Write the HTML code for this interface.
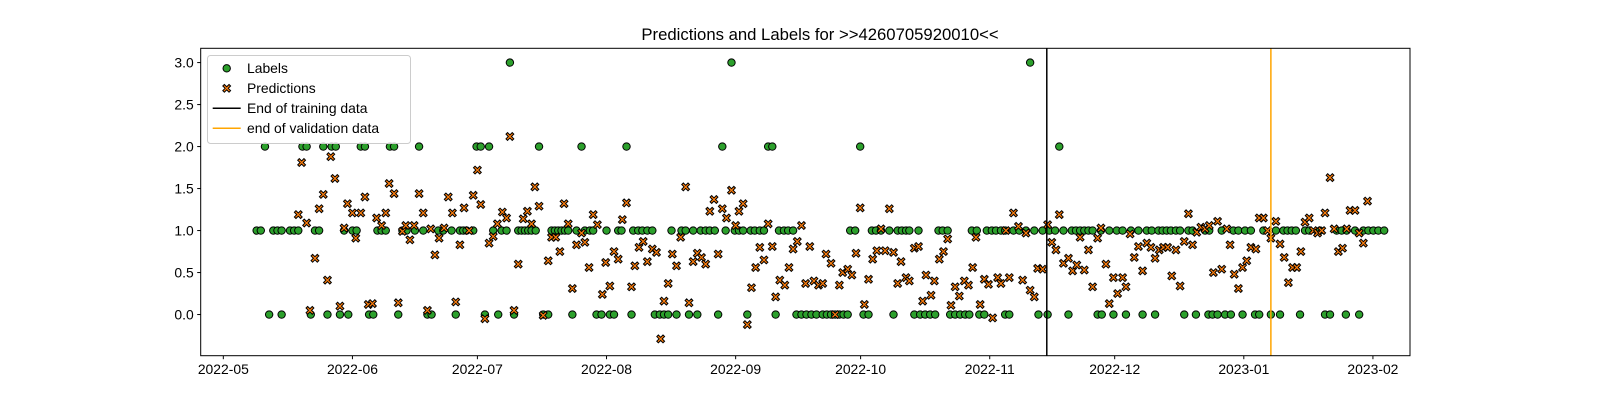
<!DOCTYPE html>
<html>
<head>
<meta charset="utf-8">
<style>
  html,body{margin:0;padding:0;background:#fff;}
  svg{display:block;font-family:"Liberation Sans","DejaVu Sans",sans-serif;}
</style>
</head>
<body>
<svg id="chart" width="1600" height="400" viewBox="0 0 1600 400" xmlns="http://www.w3.org/2000/svg">
  <rect x="0" y="0" width="1600" height="400" fill="#fff"/>
  <text x="820" y="40" text-anchor="middle" font-size="16.7" fill="#000">Predictions and Labels for &gt;&gt;4260705920010&lt;&lt;</text>
  <g id="marks"></g>
  <g id="axes"></g>
  <g id="legend">
    <rect x="207.5" y="55.5" width="203" height="88" rx="3" fill="#fff" fill-opacity="0.8" stroke="#cccccc" stroke-width="1"/>
    <circle cx="226.7" cy="68.3" r="3.7" fill="#2ca02c" stroke="#000" stroke-width="1"/>
    <text x="247" y="73" font-size="13.9">Labels</text>
    <polygon id="legX" fill="#ff7f0e" stroke="#000" stroke-width="1"/>
    <text x="247" y="93" font-size="13.9">Predictions</text>
    <line x1="212.7" y1="108.3" x2="240.7" y2="108.3" stroke="#000" stroke-width="1.5"/>
    <text x="247" y="113" font-size="13.9">End of training data</text>
    <line x1="212.7" y1="128.3" x2="240.7" y2="128.3" stroke="#ffa500" stroke-width="1.5"/>
    <text x="247" y="133" font-size="13.9">end of validation data</text>
  </g>
</svg>
<script>
// ---- data (days since 2022-05-01, value) ----
const labelPoints = [
[10,2],[19,2],[20,2],[24,2],[26,2],[27,2],[33,2],[34,2],[40,2],[41,2],[47,2],[60.8,2],[61.8,2],[63.8,2],[75.8,2],[86,2],[96.8,2],[119.8,2],[130.8,2],[131.8,2],[152.9,2],[200.7,2],
[68.8,3],[122,3],[193.7,3],
[8,1],[9,1],[12,1],[13,1],[14,1],[16,1],[17,1],[18,1],[22,1],[23,1],[29,1],[31,1],[32,1],[37,1],[38,1],[39,1],[43,1],[44,1],[46,1],[48,1],
[51.6,1],[52.8,1],[54.8,1],[56.8,1],[57.6,1],[58.4,1],[60,1],[64.8,1],[66.8,1],[68,1],[70.8,1],[71.6,1],[72.4,1],[73.2,1],[74,1],[75,1],[78.8,1],[79.6,1],[80.4,1],[81.2,1],[82,1],[82.8,1],[84.8,1],[86.8,1],[88,1],[88.8,1],[92,1],[94.8,1],[95.6,1],
[98.4,1],[99.6,1],[100.6,1],[101.8,1],[103,1],[107.6,1],[110,1],[111,1],[112.8,1],[114.6,1],[115.8,1],[116.8,1],[118,1],[120.6,1],[122.8,1],[123.8,1],[124.8,1],[126.6,1],[127.6,1],[128.8,1],[129.8,1],[133.4,1],[134.6,1],[135.6,1],[136.8,1],
[150.5,1],[151.7,1],[155.7,1],[156.7,1],[157.9,1],[159.9,1],[161.9,1],[162.9,1],[163.9,1],[164.7,1],[166.9,1],[171.7,1],[172.7,1],[173.9,1],[179.7,1],[180.9,1],[183.3,1],[184.5,1],[185.5,1],[186.7,1],[187.7,1],
[189.7,1],[191.1,1],[192.7,1],[194.7,1],[196.7,1],[198.3,1],[199.7,1],[201.7,1],[203.7,1],[204.7,1],[205.7,1],[206.7,1],[207.7,1],[208.7,1],[210.7,1],[212.7,1],[214.5,1],[215.9,1],[217.9,1],[219.7,1],[221.7,1],[222.9,1],[224.5,1],[225.5,1],[226.5,1],[227.5,1],[228.7,1],[229.7,1],[231.7,1],[232.7,1],
[235.7,1],[236.7,1],[239.7,1],[242.5,1],[243.7,1],[245.3,1],[246.7,1],[249.7,1],[252.7,1],[254.5,1],[255.5,1],[256.5,1],[257.5,1],[259.7,1],[260.7,1],[263.3,1],[267.3,1],[268.5,1],[269.7,1],[271.7,1],[273.7,1],[274.9,1],[276.1,1],[277.3,1],[278.7,1],
[11,0],[14,0],[21,0],[25,0],[28,0],[30,0],[35,0],[36,0],[42,0],[49,0],[50,0],[55.8,0],[62.8,0],[66,0],[69.8,0],[76.8,0],[78,0],[83.8,0],[89.6,0],[90.8,0],[92.8,0],[93.8,0],
[98,0],[103.6,0],[104.8,0],[105.8,0],[106.8,0],[108.8,0],[111.8,0],[113.8,0],[118.8,0],[125.8,0],[132.6,0],[137.6,0],[138.8,0],[140,0],[141.2,0],[142.4,0],
[143.9,0],[144.9,0],[145.9,0],[146.9,0],[147.9,0],[148.9,0],[149.9,0],[153.7,0],[154.9,0],[160.9,0],[165.9,0],[167.3,0],[168.5,0],[169.7,0],[170.9,0],[174.5,0],[175.7,0],[176.9,0],[178.1,0],[179.1,0],[181.5,0],[182.7,0],[187.7,0],[188.7,0],
[195.7,0],[197.9,0],[202.9,0],[209.9,0],[210.9,0],[213.7,0],[216.7,0],[220.7,0],[223.7,0],[230.7,0],[233.5,0],
[236.5,0],[237.5,0],[238.7,0],[240.5,0],[241.9,0],[244.7,0],[247.7,0],[248.7,0],[251.5,0],[253.7,0],[258.5,0],[264.5,0],[265.7,0],[269.5,0],[272.7,0]
];
const predictionPoints = [
[18.8,1.81],[25.8,1.88],[26.8,1.62],[24,1.43],[23,1.26],[18,1.19],[20,1.09],[22,0.67],[25,0.41],[20.8,0.05],[28,0.10],[29,1.03],[29.8,1.32],[31,1.21],[31.8,0.91],[33,1.21],[34,1.40],[34.8,0.12],[35.8,0.13],[36.8,1.15],[38,1.06],[39,1.21],[39.8,1.56],[41,1.44],[42,0.14],[43,0.99],[43.8,1.06],[44.8,0.89],[45.8,1.06],[47,1.44],[48,1.21],[49,0.05],[49.8,1.02],[50.8,0.71],
[51.8,0.91],[53,1.03],[54,1.40],[55,1.21],[55.8,0.15],[56.8,0.83],[57.8,1.27],[59,1.0],[60,1.42],[61,1.72],[61.8,1.31],[62.8,-0.05],[63.8,0.85],[64.8,0.93],[65.8,1.08],[67,1.22],[68,1.15],[68.8,2.12],[69.8,0.05],[70.8,0.60],[72,1.14],[73,1.23],[74,1.08],[74.8,1.52],[75.8,1.29],[76.8,-0.01],[78,0.64],[78.8,0.92],[79.8,0.92],[80.8,0.75],[81.8,1.32],[82.8,1.08],[83.8,0.31],[84.8,0.83],[86,0.97],[86.8,0.86],[87.8,0.56],[88.8,1.19],[89.8,1.07],[91,0.24],[91.8,0.62],[92.8,0.34],[93.8,0.75],[94.8,0.66],[95.8,1.13],[96.8,1.33],
[98,0.33],[98.8,0.58],[99.8,0.80],[100.8,0.87],[101.8,0.63],[103,0.78],[104,0.74],[105,-0.29],[105.8,0.16],[106.8,0.37],[107.8,0.72],[108.8,0.58],[109.8,0.92],[111,1.52],[111.8,0.14],[112.8,0.63],[113.8,0.73],[114.8,0.68],[115.8,0.60],[116.8,1.23],[117.8,1.37],[118.8,0.72],[119.8,1.26],[120.8,1.15],[122,1.48],[123,1.06],[123.8,1.23],[124.8,1.32],[125.8,-0.12],[126.8,0.32],[127.8,0.56],[128.8,0.80],[129.8,0.65],[130.8,1.08],[131.8,0.81],[132.6,0.21],[133.6,0.41],[134.8,0.35],[135.8,0.56],[136.8,0.78],[137.8,0.87],[138.8,1.06],[139.8,0.37],[140.8,0.81],[141.8,0.40],
[142.9,0.35],[143.9,0.37],[144.7,0.72],[145.9,0.61],[146.9,0.0],[147.9,0.35],[148.7,0.50],[149.9,0.54],[150.9,0.47],[151.9,0.73],[152.9,1.27],[153.9,0.12],[154.9,0.42],[155.9,0.66],[156.9,0.76],[157.9,1.02],[158.9,0.76],[159.9,1.26],[160.9,0.74],[161.9,0.37],[162.7,0.63],[163.9,0.44],[164.7,0.40],[165.9,0.79],[166.9,0.81],[167.9,0.16],[168.7,0.47],[169.9,0.23],[170.7,0.40],[171.9,0.66],[172.9,0.75],[173.9,0.90],[174.7,0.11],[175.7,0.33],[176.7,0.22],[177.9,0.40],[178.9,0.35],[179.9,0.56],[180.7,0.92],[181.7,0.12],[182.7,0.42],[183.7,0.36],[184.7,-0.04],[185.9,0.44],[186.7,0.37],[187.9,1.0],[188.7,0.44],
[189.7,1.21],[190.9,1.05],[191.9,0.41],[192.7,0.97],[193.7,0.29],[194.7,0.21],[195.5,0.55],[196.7,0.54],[197.9,1.07],[198.9,0.86],[199.9,0.77],[200.7,1.19],[201.7,0.61],[202.9,0.67],[203.9,0.52],[204.9,0.59],[205.7,0.92],[206.7,0.53],[207.7,0.77],[208.7,0.33],[209.9,0.91],[210.7,1.03],[211.9,0.60],[212.7,0.13],[213.7,0.44],[214.7,0.25],[215.9,0.44],[216.7,0.33],[217.7,0.96],[218.7,0.68],[219.7,0.81],[220.7,0.52],[221.7,0.85],[222.7,0.80],[223.7,0.67],[224.7,0.77],[225.7,0.80],[226.7,0.80],[227.7,0.46],[228.7,0.77],[229.7,0.34],[230.7,0.87],[231.7,1.20],[232.7,0.83],[233.7,0.98],
[234.7,1.04],[235.7,1.02],[236.7,1.06],[237.7,0.50],[238.7,1.11],[239.7,0.54],[240.9,1.02],[241.7,0.83],[242.7,0.48],[243.7,0.31],[244.7,0.56],[245.7,0.64],[246.7,0.80],[247.9,0.78],[248.7,1.15],[249.7,1.15],[250.7,1.0],[251.5,0.91],[252.7,1.11],[253.7,0.84],[254.7,0.68],[255.7,0.38],[256.7,0.56],[257.7,0.56],[258.7,0.75],[259.7,1.10],[260.7,1.15],[261.7,1.0],[262.7,0.97],[263.7,1.0],[264.5,1.21],[265.7,1.63],[266.7,1.02],[267.7,0.75],[268.7,0.79],[269.7,1.02],[270.5,1.24],[271.7,1.24],[272.7,0.97],[273.7,0.85],[274.7,1.35]
];
const trainingEndDay = [197.7];
const validationEndDay = [251.5];
const xTickDays = [0,31,61,92,123,153,184,214,245,276];
const xTickLabels = ["2022-05","2022-06","2022-07","2022-08","2022-09","2022-10","2022-11","2022-12","2023-01","2023-02"];
const yTickValues = [0,0.5,1,1.5,2,2.5,3];
const yTickLabels = ["0.0","0.5","1.0","1.5","2.0","2.5","3.0"];

// ---- axis functions ----
const PL=200.7, PR=1410, PT=48.3, PB=355.7;
const xMin=-5.43, xMax=284.9, yMin=-0.49, yMax=3.17;
function xs(d){return PL+(d-xMin)/(xMax-xMin)*(PR-PL);}
function ys(v){return PB-(v-yMin)/(yMax-yMin)*(PB-PT);}

const NS="http://www.w3.org/2000/svg";
const marks=document.getElementById('marks');
const axes=document.getElementById('axes');
function xPoly(cx,cy,s){
  const p=[[-1,-0.6],[-0.6,-1],[0,-0.4],[0.6,-1],[1,-0.6],[0.4,0],[1,0.6],[0.6,1],[0,0.4],[-0.6,1],[-1,0.6],[-0.4,0]];
  return p.map(q=>(cx+q[0]*s).toFixed(2)+","+(cy+q[1]*s).toFixed(2)).join(" ");
}
document.getElementById('legX').setAttribute('points',xPoly(226.7,88.3,3.9));

labelPoints.forEach(function(pt){
  const c=document.createElementNS(NS,'circle');
  c.setAttribute('cx',xs(pt[0]).toFixed(2));
  c.setAttribute('cy',ys(pt[1]).toFixed(2));
  c.setAttribute('r','3.7');
  c.setAttribute('fill','#2ca02c');
  c.setAttribute('stroke','#000');
  c.setAttribute('stroke-width','1');
  
  
  marks.appendChild(c);
});
predictionPoints.forEach(function(pt){
  const p=document.createElementNS(NS,'polygon');
  p.setAttribute('points',xPoly(xs(pt[0]),ys(pt[1]),3.9));
  p.setAttribute('fill','#ff7f0e');
  p.setAttribute('stroke','#000');
  p.setAttribute('stroke-width','1');
  
  
  marks.appendChild(p);
});

function vline(day,color,name){
  const l=document.createElementNS(NS,'line');
  const x=xs(day);
  l.setAttribute('x1',x);l.setAttribute('x2',x);
  l.setAttribute('y1',PT);l.setAttribute('y2',PB);
  l.setAttribute('stroke',color);l.setAttribute('stroke-width','1.5');
  
  
  marks.appendChild(l);
}
vline(trainingEndDay[0],'#000','training-end-line');
vline(validationEndDay[0],'#ffa500','validation-end-line');

// frame
const fr=document.createElementNS(NS,'rect');
fr.setAttribute('x',PL);fr.setAttribute('y',PT);
fr.setAttribute('width',PR-PL);fr.setAttribute('height',PB-PT);
fr.setAttribute('fill','none');fr.setAttribute('stroke','#000');fr.setAttribute('stroke-width','1');


axes.appendChild(fr);

xTickDays.forEach(function(d,i){
  const x=xs(d);
  const t=document.createElementNS(NS,'line');
  t.setAttribute('x1',x);t.setAttribute('x2',x);t.setAttribute('y1',PB);t.setAttribute('y2',PB+3.5);
  t.setAttribute('stroke','#000');t.setAttribute('stroke-width','1');
  
  
  axes.appendChild(t);
  const tx=document.createElementNS(NS,'text');
  tx.setAttribute('x',x);tx.setAttribute('y',PB+18.5);
  tx.setAttribute('text-anchor','middle');tx.setAttribute('font-size','13.9');
  tx.textContent=xTickLabels[i];
  
  
  axes.appendChild(tx);
});
yTickValues.forEach(function(v,i){
  const y=ys(v);
  const t=document.createElementNS(NS,'line');
  t.setAttribute('x1',PL-3.5);t.setAttribute('x2',PL);t.setAttribute('y1',y);t.setAttribute('y2',y);
  t.setAttribute('stroke','#000');t.setAttribute('stroke-width','1');
  
  
  axes.appendChild(t);
  const tx=document.createElementNS(NS,'text');
  tx.setAttribute('x',PL-7);tx.setAttribute('y',y+5);
  tx.setAttribute('text-anchor','end');tx.setAttribute('font-size','13.9');
  tx.textContent=yTickLabels[i];
  
  
  axes.appendChild(tx);
});
</script>
</body>
</html>
